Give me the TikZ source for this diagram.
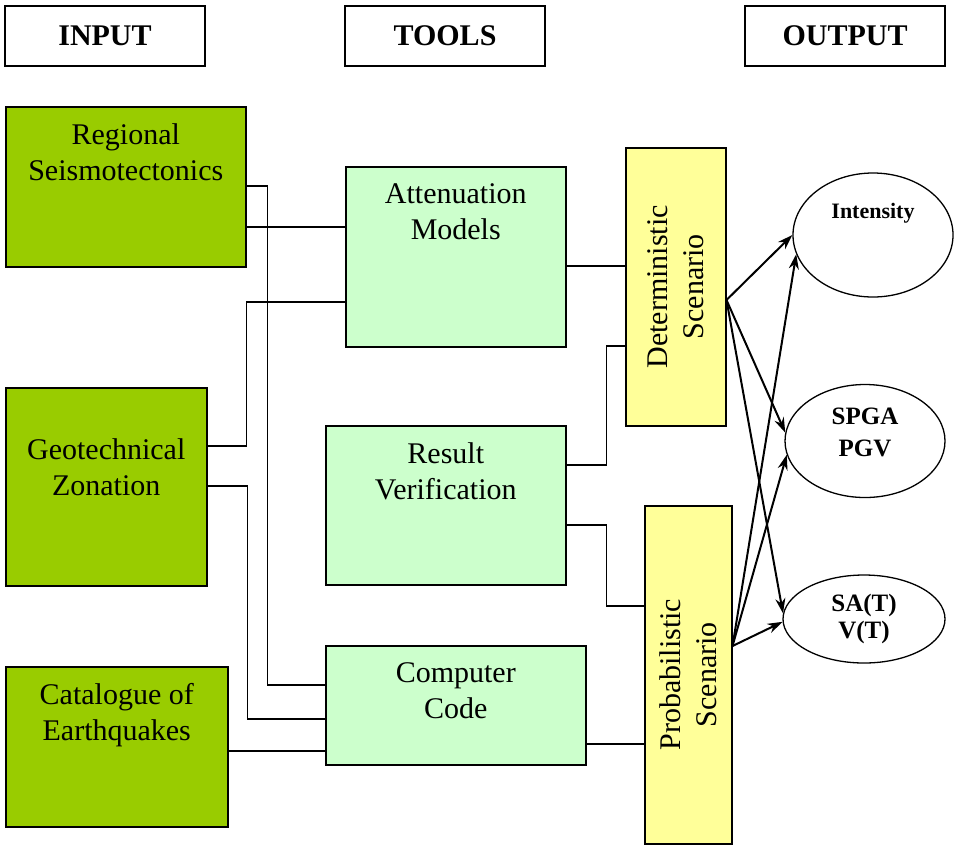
\documentclass[tikz,border=0pt]{standalone}
\usepackage{fontspec}
\setmainfont{Liberation Serif}
\usepackage{xcolor}
\usepackage{tikz}
\usetikzlibrary{arrows.meta,positioning,shapes.geometric}
\definecolor{leaf}{HTML}{99CC00}
\definecolor{mint}{HTML}{CCFFCC}
\definecolor{butter}{HTML}{FFFF99}

\begin{document}
\begin{tikzpicture}[
  x=1pt, y=-1pt,
  header/.style={draw, line width=1.3pt, minimum width=200pt, minimum height=60pt, inner sep=0pt, font=\fontsize{30}{36}\selectfont\bfseries},
  inbox/.style={draw, line width=1.5pt, fill=leaf, anchor=north west, inner sep=0pt},
  toolbox/.style={draw, line width=1.5pt, fill=mint, anchor=north west, inner sep=0pt},
  scenbox/.style={draw, line width=1.5pt, fill=butter, anchor=north west, inner sep=0pt},
  outcome/.style={draw, ellipse, line width=1.3pt, inner sep=0pt},
  boxtext/.style={align=center, inner sep=0pt, font=\fontsize{30}{36}\selectfont},
  outtext/.style={align=center, inner sep=0pt, font=\fontsize{25}{32}\selectfont\bfseries},
  wire/.style={line width=1.3pt},
  feed/.style={line width=2pt, -{Stealth[length=15pt, width=10pt]}}
]
  \useasboundingbox (0,0) rectangle (957,844);

  \node[header] (input) at (105,36) {INPUT};
  \node[header] (tools) at (445,36) {TOOLS};
  \node[header] (output) at (845,36) {OUTPUT};

  % input column
  \node[inbox, minimum width=240pt, minimum height=160pt] (seismo) at (5,106) {};
  \node[boxtext, below=17pt of seismo.north] {Regional\\Seismotectonics};
  \node[inbox, minimum width=201pt, minimum height=198pt] (geo) at (5,387) {};
  \node[boxtext, below=51pt of geo.north] {Geotechnical\\Zonation};
  \node[inbox, minimum width=222pt, minimum height=160pt] (cat) at (5,666) {};
  \node[boxtext, below=17pt of cat.north] {Catalogue of\\Earthquakes};

  % tools column
  \node[toolbox, minimum width=220pt, minimum height=180pt] (atten) at (345,166) {};
  \node[boxtext, below=17pt of atten.north] {Attenuation\\Models};
  \node[toolbox, minimum width=240pt, minimum height=159pt] (verif) at (325,425) {};
  \node[boxtext, below=17pt of verif.north] {Result\\Verification};
  \node[toolbox, minimum width=260pt, minimum height=119pt] (code) at (325,645) {};
  \node[boxtext, below=17pt of code.north] {Computer\\Code};

  % scenarios
  \node[scenbox, minimum width=100pt, minimum height=278pt] (det) at (625,147) {};
  \node[boxtext, rotate=90] at (det.center) {Deterministic\\Scenario};
  \node[scenbox, minimum width=87pt, minimum height=338pt] (prob) at (644,505) {};
  \node[boxtext, rotate=90] at (prob.center) {Probabilistic\\Scenario};

  % output column
  \node[outcome, minimum width=160pt, minimum height=124pt] (inten) at (873,235) {};
  \node[outtext, font=\fontsize{22}{28}\selectfont\bfseries] at ([yshift=22pt]inten.center) {Intensity};
  \node[outcome, minimum width=160pt, minimum height=113pt] (spga) at (865,441) {};
  \node[outtext] at ([yshift=9pt]spga.center) {SPGA\\PGV};
  \node[outcome, minimum width=162pt, minimum height=88pt] (sat) at (864,619) {};
  \node[outtext, font=\fontsize{25}{27}\selectfont\bfseries] at (sat.center) {SA(T)\\V(T)};

  \draw[wire] ([yshift=-80pt]seismo.north east) -- ++(21,0) |- ([yshift=-40pt]code.north west);
  \draw[wire] ([yshift=-121pt]seismo.north east) -- ([yshift=-61pt]atten.north west);
  \draw[wire] ([yshift=-59pt]geo.north east) -- ++(39,0) |- ([yshift=-136pt]atten.north west);
  \draw[wire] ([yshift=-99pt]geo.north east) -- ++(40,0) |- ([yshift=-74pt]code.north west);
  \draw[wire] ([yshift=-85pt]cat.north east) -- ([yshift=-106pt]code.north west);
  \draw[wire] ([yshift=-100pt]atten.north east) -- ([yshift=-119pt]det.north west);
  \draw[wire] ([yshift=-40pt]verif.north east) -- ++(40,0) |- ([yshift=-199pt]det.north west);
  \draw[wire] ([yshift=-100pt]verif.north east) -- ++(40,0) |- ([yshift=-101pt]prob.north west);
  \draw[wire] ([yshift=-99pt]code.north east) -- ([yshift=-239pt]prob.north west);

  \coordinate (detout) at ([yshift=-153pt]det.north east);
  \coordinate (probout) at ([yshift=-141pt]prob.north east);
  \draw[feed] (detout) -- (inten.180);
  \draw[feed] (detout) -- (spga.174);
  \draw[feed] (detout) -- (sat.176);
  \draw[feed] (probout) -- (inten.194);
  \draw[feed] (probout) -- (spga.190);
  \draw[feed] (probout) -- (sat.182);
\end{tikzpicture}
\end{document}
